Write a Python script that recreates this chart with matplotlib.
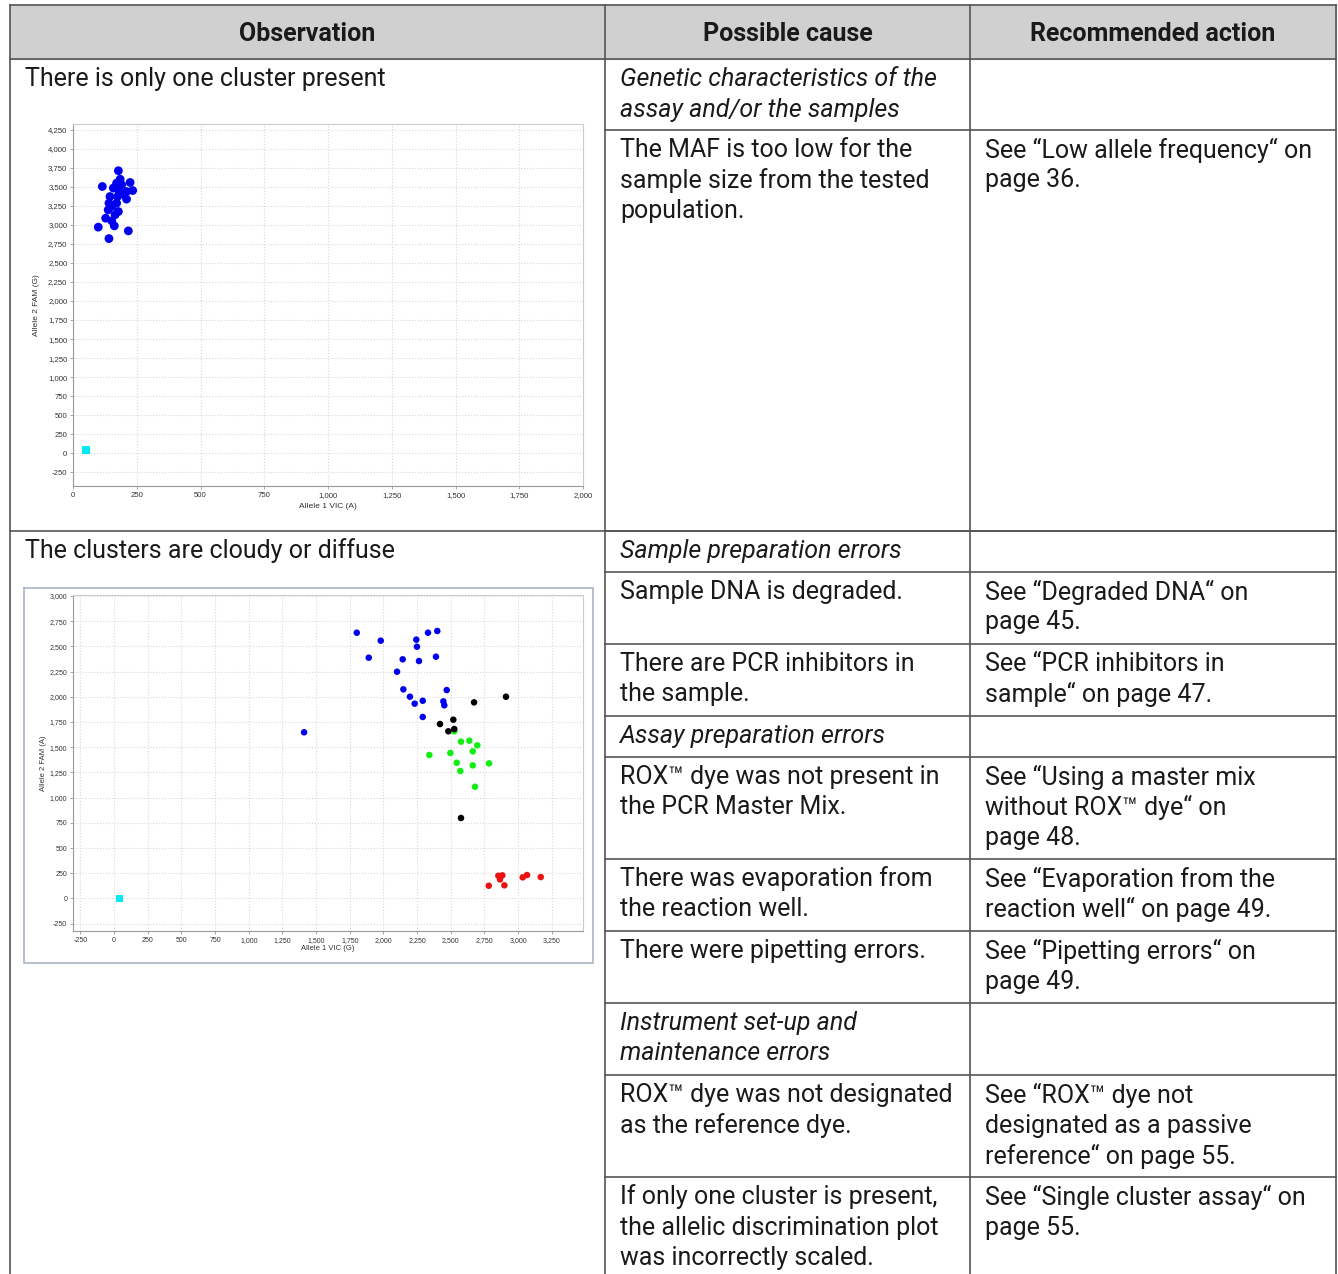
import matplotlib
matplotlib.use("Agg")
import matplotlib.pyplot as plt
from matplotlib.ticker import FixedLocator, FuncFormatter

W, H = 1338, 1274

# plot 1: one cluster
p1_blue_x = [178, 115, 171, 191, 224, 234, 210, 178, 158, 145, 175, 210, 141, 171,
             138, 178, 165, 128, 152, 162, 99, 217, 141, 152, 185, 200]
p1_blue_y = [3711, 3504, 3548, 3526, 3557, 3451, 3438, 3461, 3483, 3372, 3372, 3338, 3285, 3285,
             3197, 3175, 3132, 3088, 3053, 2987, 2970, 2921, 2820, 3241, 3600, 3400]
p1_ntc_x = [51]
p1_ntc_y = [45]

# plot 2: diffuse clusters
p2_blue_x = [1802, 1980, 2244, 2249, 2331, 2400, 1891, 2143, 2264, 2390, 2101, 2148, 2470,
             2197, 2232, 2292, 2445, 2452, 2292, 1411]
p2_blue_y = [2636, 2557, 2567, 2497, 2636, 2653, 2388, 2372, 2355, 2398, 2249, 2074, 2067,
             2001, 1932, 1961, 1955, 1916, 1800, 1648]
p2_green_x = [2526, 2576, 2638, 2697, 2663, 2341, 2497, 2544, 2663, 2784, 2571, 2680]
p2_green_y = [1658, 1555, 1565, 1519, 1459, 1423, 1443, 1346, 1320, 1340, 1264, 1108]
p2_black_x = [2910, 2673, 2420, 2519, 2482, 2526, 2576]
p2_black_y = [2001, 1945, 1730, 1773, 1658, 1681, 798]
p2_red_x = [2782, 2853, 2883, 2866, 2898, 3034, 3066, 3168]
p2_red_y = [126, 225, 229, 189, 130, 209, 232, 212]
p2_ntc_x = [40]
p2_ntc_y = [0]

headers = ["Observation", "Possible cause", "Recommended action"]
observations = ["There is only one cluster present", "The clusters are cloudy or diffuse"]

# (top, bottom, cause lines, action lines, italic)
cause_rows = [
    (59, 130, ["Genetic characteristics of the", "assay and/or the samples"], [], True),
    (130, 531, ["The MAF is too low for the", "sample size from the tested", "population."],
     ["See “Low allele frequency“ on", "page 36."], False),
    (531, 572, ["Sample preparation errors"], [], True),
    (572, 644, ["Sample DNA is degraded."], ["See “Degraded DNA“ on", "page 45."], False),
    (644, 716, ["There are PCR inhibitors in", "the sample."],
     ["See “PCR inhibitors in", "sample“ on page 47."], False),
    (716, 757, ["Assay preparation errors"], [], True),
    (757, 859, ["ROX™ dye was not present in", "the PCR Master Mix."],
     ["See “Using a master mix", "without ROX™ dye“ on", "page 48."], False),
    (859, 931, ["There was evaporation from", "the reaction well."],
     ["See “Evaporation from the", "reaction well“ on page 49."], False),
    (931, 1003, ["There were pipetting errors."], ["See “Pipetting errors“ on", "page 49."], False),
    (1003, 1075, ["Instrument set-up and", "maintenance errors"], [], True),
    (1075, 1177, ["ROX™ dye was not designated", "as the reference dye."],
     ["See “ROX™ dye not", "designated as a passive", "reference“ on page 55."], False),
    (1177, 1290, ["If only one cluster is present,", "the allelic discrimination plot", "was incorrectly scaled."],
     ["See “Single cluster assay“ on", "page 55."], False),
]

FONT = ['Roboto', 'DejaVu Sans']
LINE = '#555555'
TXT = '#1a1a1a'
fs_body = 18
line_h = 30.5

fig = plt.figure(figsize=(W / 100, H / 100), dpi=100)
tab = fig.add_axes([0, 0, 1, 1])
tab.set_xlim(0, W)
tab.set_ylim(H, 0)
tab.axis('off')

x_l, x_c1, x_c2, x_r = 10, 605, 970, 1336
top, head_b = 5, 59

tab.fill_between([x_l, x_r], top, head_b, color='#d0d0d0', zorder=0)
tab.plot([x_l, x_r], [top, top], color=LINE, lw=1.2)
tab.plot([x_l, x_r], [head_b, head_b], color=LINE, lw=1.2)
for xx in (x_l, x_c1, x_c2, x_r):
    tab.plot([xx, xx], [top, H + 5], color=LINE, lw=1.2)
tab.plot([x_l, x_r], [531, 531], color=LINE, lw=1.2)
for t, b, *_ in cause_rows[1:]:
    tab.plot([x_c1, x_r], [t, t], color=LINE, lw=1.2)

for txt, xc in zip(headers, [(x_l + x_c1) / 2, (x_c1 + x_c2) / 2, (x_c2 + x_r) / 2]):
    tab.text(xc, 34, txt, ha='center', va='center', fontsize=18, fontweight='bold',
             family=FONT, color=TXT)

for txt, yy in zip(observations, [79, 551]):
    tab.text(25, yy, txt, ha='left', va='center', fontsize=fs_body, family=FONT, color=TXT)

for t, b, cause, action, ital in cause_rows:
    for i, ln in enumerate(cause):
        tab.text(620, t + 20 + i * line_h, ln, ha='left', va='center', fontsize=fs_body,
                 family=FONT, color=TXT, style='italic' if ital else 'normal')
    for i, ln in enumerate(action):
        tab.text(985, t + 20 + i * line_h, ln, ha='left', va='center', fontsize=fs_body,
                 family=FONT, color=TXT)

# frame around second picture
tab.plot([24, 593, 593, 24, 24], [588, 588, 963, 963, 588], color='#aab4c4', lw=1.2)


def comma(v, pos):
    return f"{int(v):,}"


def style_ax(ax, xt, yt, fs):
    ax.xaxis.set_major_locator(FixedLocator(xt))
    ax.yaxis.set_major_locator(FixedLocator(yt))
    ax.xaxis.set_major_formatter(FuncFormatter(comma))
    ax.yaxis.set_major_formatter(FuncFormatter(comma))
    ax.grid(True, color='#d8d8d8', linestyle=':', linewidth=0.8)
    ax.set_axisbelow(True)
    for s in ax.spines.values():
        s.set_color('#cccccc')
        s.set_linewidth(0.8)
    ax.spines['left'].set_color('#999999')
    ax.spines['bottom'].set_color('#999999')
    ax.tick_params(labelsize=fs, length=2, width=0.6, color='#999999', pad=2, labelcolor='#333333')
    for lab in ax.get_xticklabels() + ax.get_yticklabels():
        lab.set_family('Liberation Sans')


# first scatter
ax1 = fig.add_axes([73 / W, 1 - 486 / H, 510 / W, 362 / H])
ax1.scatter(p1_blue_x, p1_blue_y, s=40, color='#0000ee', edgecolors='none', zorder=3)
ax1.scatter(p1_ntc_x, p1_ntc_y, s=30, marker='s', color='#00e8f0', edgecolors='none', zorder=3)
ax1.set_xlim(0, 2000)
ax1.set_ylim(-430, 4325)
style_ax(ax1, range(0, 2001, 250), range(-250, 4251, 250), 5.6)
ax1.set_xlabel('Allele 1 VIC (A)', fontsize=6, family='Liberation Sans', labelpad=3, color='#333333')
ax1.set_ylabel('Allele 2 FAM (G)', fontsize=6, family='Liberation Sans', labelpad=6, color='#333333')

# second scatter
ax2 = fig.add_axes([72.7 / W, 1 - 931 / H, 510.6 / W, 336 / H])
ax2.scatter(p2_blue_x, p2_blue_y, s=22, color='#0000ee', edgecolors='none', zorder=3)
ax2.scatter(p2_green_x, p2_green_y, s=22, color='#11ee11', edgecolors='none', zorder=3)
ax2.scatter(p2_black_x, p2_black_y, s=22, color='#000000', edgecolors='none', zorder=4)
ax2.scatter(p2_red_x, p2_red_y, s=22, color='#ee1111', edgecolors='none', zorder=3)
ax2.scatter(p2_ntc_x, p2_ntc_y, s=22, marker='s', color='#00e8f0', edgecolors='none', zorder=3)
ax2.set_xlim(-307, 3484)
ax2.set_ylim(-323, 3010)
style_ax(ax2, range(-250, 3251, 250), range(-250, 3001, 250), 5.0)
ax2.set_xlabel('Allele 1 VIC (G)', fontsize=5.5, family='Liberation Sans', labelpad=1, color='#333333')
ax2.set_ylabel('Allele 2 FAM (A)', fontsize=5.5, family='Liberation Sans', labelpad=2, color='#333333')

fig.savefig('out.png', dpi=100)
